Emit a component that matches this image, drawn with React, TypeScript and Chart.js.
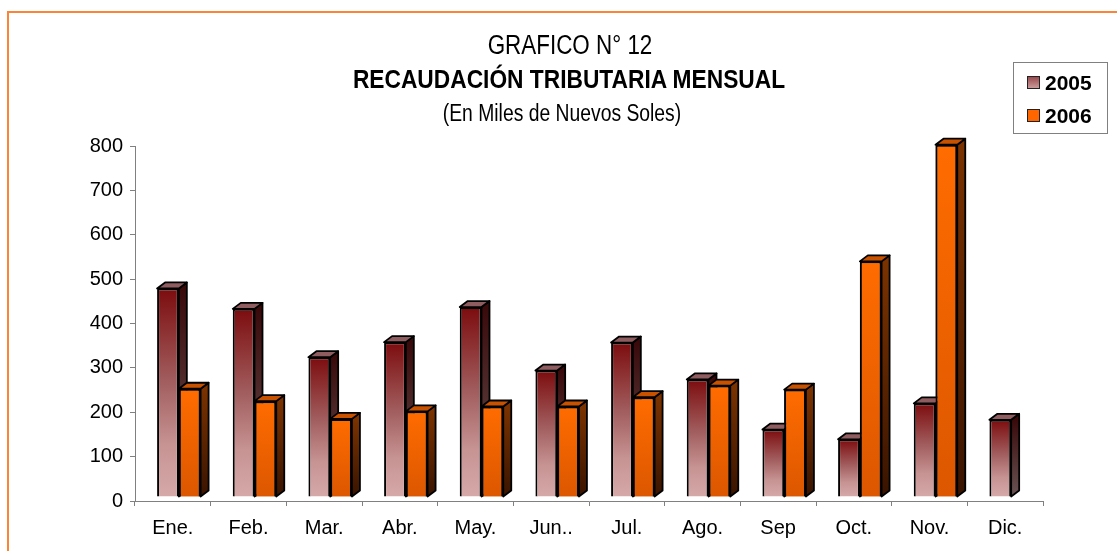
import React, { useEffect, useRef } from "react";
import { Chart, registerables } from "chart.js";

Chart.register(...registerables);

const months = ["Ene.", "Feb.", "Mar.", "Abr.", "May.", "Jun..", "Jul.", "Ago.", "Sep", "Oct.", "Nov.", "Dic."];
const values2005: (number | null)[] = [470, 424, 315, 349, 428, 285, 348, 265, 152, 130, 211, 174];
const values2006: (number | null)[] = [244, 216, 176, 193, 204, 204, 225, 251, 242, 531, 794, null];
const seriesLabels = ["2005", "2006"];
const yMax = 800;
const yStep = 100;
const titleLines = ["GRAFICO N° 12", "RECAUDACIÓN TRIBUTARIA MENSUAL", "(En Miles de Nuevos Soles)"];

const FONT = "'Liberation Sans', Arial, sans-serif";

const DX = 8;
const DY = -6;
const SHIFT_X = 6;
const SHIFT_Y = -4;

function makeGrad(ctx: any, top: number, base: number, stops: [number, string][]) {
  const g = ctx.createLinearGradient(0, top, 0, base);
  stops.forEach(([o, c]) => g.addColorStop(o, c));
  return g;
}

const front2005: [number, string][] = [
  [0, "#7c0c0e"],
  [0.45, "#a25e5f"],
  [0.75, "#c79393"],
  [1, "#d6a9a9"],
];
const front2006: [number, string][] = [
  [0, "#ff6c00"],
  [1, "#dc5700"],
];
const side2005: [number, string][] = [
  [0, "#3a0a0b"],
  [1, "#6a5454"],
];
const side2006: [number, string][] = [
  [0, "#7a3200"],
  [1, "#3a1400"],
];
const topColors = ["#8f5c60", "#c85200"];

function frontColor(stops: [number, string][], fallback: string) {
  return (c: any) => {
    const chart = c.chart;
    const y = chart.scales && chart.scales.y;
    if (!y || c.raw == null) return fallback;
    const top = y.getPixelForValue(c.raw);
    const base = y.getPixelForValue(0);
    if (!isFinite(top) || !isFinite(base)) return fallback;
    return makeGrad(chart.ctx, top, base, stops);
  };
}

function drawDepth(ctx: any, el: any, sideStops: [number, string][], topColor: string) {
  const { x, y, base, width } = el.getProps(["x", "y", "base", "width"], true);
  if (![x, y, base, width].every((v: number) => isFinite(v))) return;
  const l = x - width / 2;
  const r = x + width / 2;
  ctx.save();
  ctx.lineWidth = 1.8;
  ctx.strokeStyle = "#000";
  ctx.lineJoin = "round";
  ctx.beginPath();
  ctx.moveTo(r, y);
  ctx.lineTo(r + DX, y + DY);
  ctx.lineTo(r + DX, base + DY);
  ctx.lineTo(r, base);
  ctx.closePath();
  ctx.fillStyle = makeGrad(ctx, y, base, sideStops);
  ctx.fill();
  ctx.stroke();
  ctx.beginPath();
  ctx.moveTo(l, y);
  ctx.lineTo(l + DX, y + DY);
  ctx.lineTo(r + DX, y + DY);
  ctx.lineTo(r, y);
  ctx.closePath();
  ctx.fillStyle = topColor;
  ctx.fill();
  ctx.stroke();
  ctx.restore();
}

const bar3d = {
  id: "bar3d",
  beforeDatasetsDraw(chart: any) {
    chart.ctx.save();
    chart.ctx.translate(SHIFT_X, SHIFT_Y);
  },
  afterDatasetsDraw(chart: any) {
    const ctx = chart.ctx;
    const m0 = chart.getDatasetMeta(0);
    const m1 = chart.getDatasetMeta(1);
    m0.data.forEach((el: any, i: number) => {
      if (values2005[i] == null) return;
      drawDepth(ctx, el, side2005, topColors[0]);
    });
    m1.data.forEach((el: any, i: number) => {
      if (values2006[i] == null) return;
      el.draw(ctx);
      drawDepth(ctx, el, side2006, topColors[1]);
    });
    ctx.restore();
  },
};

export default function App() {
  const ref = useRef<HTMLCanvasElement | null>(null);

  useEffect(() => {
    if (!ref.current) return;
    const chart = new Chart(ref.current, {
      type: "bar",
      data: {
        labels: months,
        datasets: [
          {
            label: seriesLabels[0],
            data: values2005,
            backgroundColor: frontColor(front2005, "#a05a5e"),
            borderColor: "#000",
            borderWidth: 2,
            clip: false as any,
          },
          {
            label: seriesLabels[1],
            data: values2006,
            backgroundColor: frontColor(front2006, "#ff6600"),
            borderColor: "#000",
            borderWidth: 2,
            clip: false as any,
          },
        ],
      },
      options: {
        responsive: false,
        animation: false,
        devicePixelRatio: 1,
        layout: { padding: { left: 0, top: 146, right: 74, bottom: 0 } },
        datasets: { bar: { categoryPercentage: 0.575, barPercentage: 1 } },
        plugins: {
          legend: { display: false },
          title: { display: false },
          tooltip: { enabled: false },
        },
        scales: {
          x: {
            grid: { offset: true, drawOnChartArea: false, drawTicks: true, tickLength: 5, color: "#808080" },
            border: { display: true, color: "#808080", width: 1 },
            ticks: { color: "#000", font: { family: FONT, size: 20 }, padding: 10, maxRotation: 0, autoSkip: false },
            afterFit: (s: any) => {
              s.height = 50;
            },
          },
          y: {
            min: 0,
            max: yMax,
            grid: { drawOnChartArea: false, drawTicks: true, tickLength: 5, color: "#808080" },
            border: { display: true, color: "#808080", width: 1 },
            ticks: { stepSize: yStep, color: "#000", font: { family: FONT, size: 20 }, padding: 7 },
            afterFit: (s: any) => {
              s.width = 135;
            },
          },
        },
      },
      plugins: [bar3d],
    });
    return () => chart.destroy();
  }, []);

  const lineStyle = (top: number, size: number, bold: boolean, sx: number, cx: number): React.CSSProperties => ({
    position: "absolute",
    left: cx - 500,
    width: 1000,
    top,
    textAlign: "center",
    fontFamily: FONT,
    fontSize: size,
    fontWeight: bold ? "bold" : "normal",
    lineHeight: `${size}px`,
    color: "#000",
    whiteSpace: "nowrap",
    transform: `scaleX(${sx})`,
    transformOrigin: "500px 0",
  });

  const legendItem = (top: number, bg: string, label: string) => (
    <div style={{ position: "absolute", left: 1027, top, height: 22, width: 80 }}>
      <div
        style={{
          position: "absolute",
          left: 0,
          top: 4,
          width: 11,
          height: 11,
          background: bg,
          border: "1px solid #222",
        }}
      />
      <div
        style={{
          position: "absolute",
          left: 18,
          top: 0,
          fontFamily: FONT,
          fontWeight: "bold",
          fontSize: 21,
          lineHeight: "21px",
          color: "#000",
        }}
      >
        {label}
      </div>
    </div>
  );

  return (
    <div style={{ position: "absolute", left: 0, top: 0, width: 1117, height: 551, background: "#fff", overflow: "hidden" }}>
      <canvas ref={ref} width={1117} height={551} style={{ position: "absolute", left: 0, top: 0, width: 1117, height: 551 }} />
      <div
        style={{
          position: "absolute",
          left: 7,
          top: 11,
          width: 1200,
          height: 600,
          borderLeft: "2px solid #fb8436",
          borderTop: "2px solid #fb8436",
          pointerEvents: "none",
        }}
      />
      <div style={lineStyle(32, 27, false, 0.83, 570)}>{titleLines[0]}</div>
      <div style={lineStyle(66, 26, true, 0.875, 569)}>{titleLines[1]}</div>
      <div style={lineStyle(102, 23, false, 0.84, 562)}>{titleLines[2]}</div>
      <div
        style={{
          position: "absolute",
          left: 1013,
          top: 62,
          width: 93,
          height: 70,
          border: "1px solid #808080",
          background: "#fff",
        }}
      />
      {legendItem(72, "linear-gradient(#9a4a4e, #c99a9a)", seriesLabels[0])}
      {legendItem(105, "#ff6600", seriesLabels[1])}
    </div>
  );
}
